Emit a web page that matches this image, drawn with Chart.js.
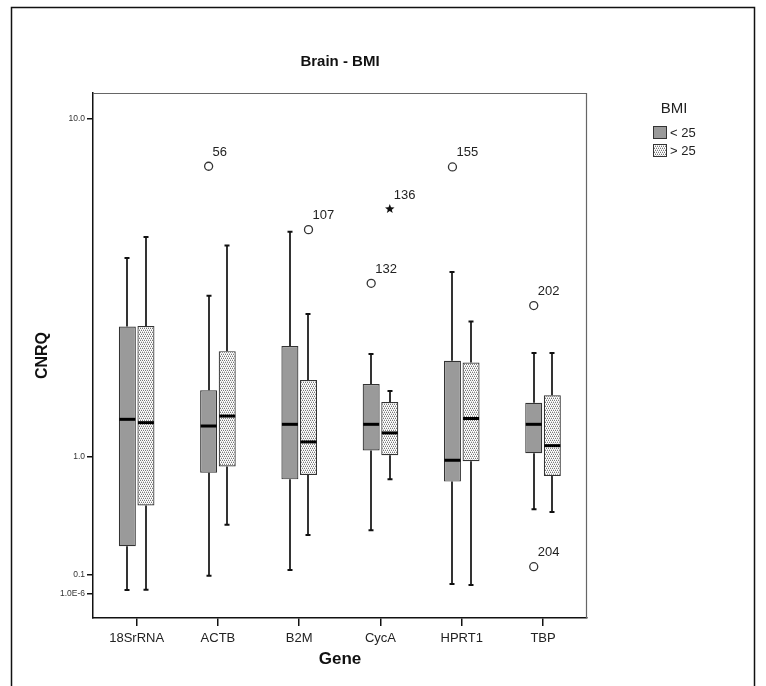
<!DOCTYPE html>
<html><head><meta charset="utf-8">
<script src="https://cdn.jsdelivr.net/npm/chart.js@4.4.0/dist/chart.umd.min.js"></script>
<style>html,body{margin:0;padding:0;background:#fff}#wrap{width:766px;height:686px;position:relative}</style>
</head><body><div id="wrap"><canvas id="c" width="766" height="686"></canvas></div>
<script>
// ---------- data ----------
const genes = ['18SrRNA', 'ACTB', 'B2M', 'CycA', 'HPRT1', 'TBP'];
const groupLabels = ['< 25', '> 25'];

const lt25Min    = [0.018, 0.094, 0.126, 0.376, 0.049, 0.53];
const lt25Q1     = [0.27,  0.84,  0.78,  1.06,  0.76,  1.03];
const lt25Median = [1.41,  1.33,  1.35,  1.35,  0.96,  1.35];
const lt25Q3     = [2.85,  1.79,  2.49,  1.88,  2.24,  1.62];
const lt25Max    = [4.44,  3.50,  5.21,  2.35,  4.07,  2.37];

const gt25Min    = [0.019, 0.415, 0.344, 0.78,  0.044, 0.51];
const gt25Q1     = [0.56,  0.90,  0.82,  1.01,  0.95,  0.81];
const gt25Median = [1.37,  1.45,  1.15,  1.25,  1.42,  1.11];
const gt25Q3     = [2.86,  2.40,  1.94,  1.63,  2.21,  1.72];
const gt25Max    = [5.05,  4.80,  3.10,  1.78,  2.95,  2.37];

const outlierGene  = [1, 2, 3, 3, 4, 5, 5];
const outlierGroup = [0, 1, 0, 1, 0, 0, 0];
const outlierValue = [7.65, 5.28, 3.79, 5.97, 7.62, 3.28, 0.145];
const outlierId    = ['56', '107', '132', '136', '155', '202', '204'];
const outlierKind  = ['o', 'o', 'o', '*', 'o', 'o', 'o'];

const yTickValues = [1e-6, 0.1, 1, 10];
const yTickLabels = ['1.0E-6', '0.1', '1.0', '10.0'];

// ---------- scale: position proportional to log10(1 + value) ----------
const f1p = v => Math.log10(1 + v);
class Log1pScale extends Chart.LinearScale {
  getPixelForValue(value) {
    const a = f1p(this.min), b = f1p(this.max);
    return this.getPixelForDecimal((f1p(value) - a) / (b - a));
  }
  getValueForPixel(pixel) {
    const a = f1p(this.min), b = f1p(this.max);
    return Math.pow(10, a + this.getDecimalForPixel(pixel) * (b - a)) - 1;
  }
}
Log1pScale.id = 'log1p';
Log1pScale.defaults = Chart.LinearScale.defaults;
Chart.register(Log1pScale);

const FONT = '"Liberation Sans", Arial, sans-serif';

// dotted pattern
function makePattern() {
  const c = document.createElement('canvas');
  c.width = 4; c.height = 4;
  const g = c.getContext('2d');
  g.fillStyle = '#ffffff'; g.fillRect(0, 0, 4, 4);
  g.fillStyle = '#7a7a7a';
  [[0,0],[2,0],[1,2],[3,2]].forEach(p => g.fillRect(p[0], p[1], 1, 1));
  g.fillStyle = '#d0d0d0';
  [[1,1],[3,1],[0,3],[2,3]].forEach(p => g.fillRect(p[0], p[1], 1, 1));
  return document.getElementById('c').getContext('2d').createPattern(c, 'repeat');
}
const dotPattern = makePattern();
const groupFills = ['#9a9a9a', dotPattern];

const stats = [
  {min: lt25Min, q1: lt25Q1, med: lt25Median, q3: lt25Q3, max: lt25Max},
  {min: gt25Min, q1: gt25Q1, med: gt25Median, q3: gt25Q3, max: gt25Max}
];

const boxPlugin = {
  id: 'boxParts',
  beforeDraw(chart) {
    const ctx = chart.ctx;
    ctx.save();
    ctx.fillStyle = '#fff';
    ctx.fillRect(0, 0, chart.width, chart.height);
    ctx.strokeStyle = '#111';
    ctx.lineWidth = 1.5;
    ctx.strokeRect(11.5, 7.5, 743, 720);
    ctx.restore();
  },
  afterDatasetsDraw(chart) {
    const ctx = chart.ctx, ys = chart.scales.y;
    ctx.save();
    stats.forEach((s, di) => {
      const meta = chart.getDatasetMeta(di);
      meta.data.forEach((bar, i) => {
        const x = Math.round(bar.x), w = bar.width;
        const pMax = ys.getPixelForValue(s.max[i]);
        const pQ3 = ys.getPixelForValue(s.q3[i]);
        const pQ1 = ys.getPixelForValue(s.q1[i]);
        const pMin = ys.getPixelForValue(s.min[i]);
        const pMed = ys.getPixelForValue(s.med[i]);
        ctx.strokeStyle = '#111';
        ctx.lineWidth = 1.7;
        ctx.beginPath();
        ctx.moveTo(x, pQ3); ctx.lineTo(x, pMax);
        ctx.moveTo(x, pQ1); ctx.lineTo(x, pMin);
        ctx.stroke();
        ctx.lineWidth = 2;
        ctx.beginPath();
        ctx.moveTo(x - 2.5, pMax); ctx.lineTo(x + 2.5, pMax);
        ctx.moveTo(x - 2.5, pMin); ctx.lineTo(x + 2.5, pMin);
        ctx.stroke();
        ctx.strokeStyle = '#000';
        ctx.lineWidth = 3;
        ctx.beginPath();
        ctx.moveTo(bar.x - w / 2 + 0.5, pMed); ctx.lineTo(bar.x + w / 2 - 0.5, pMed);
        ctx.stroke();
      });
    });
    ctx.restore();
  },
  afterDraw(chart) {
    const ctx = chart.ctx, ys = chart.scales.y, a = chart.chartArea;
    ctx.save();
    // plot frame (top/right)
    ctx.strokeStyle = '#666';
    ctx.lineWidth = 1.2;
    ctx.beginPath();
    ctx.moveTo(a.left, a.top + 0.5); ctx.lineTo(a.right - 0.5, a.top + 0.5); ctx.lineTo(a.right - 0.5, a.bottom);
    ctx.stroke();
    // outliers
    outlierValue.forEach((v, k) => {
      const bar = chart.getDatasetMeta(outlierGroup[k]).data[outlierGene[k]];
      const x = bar.x, y = ys.getPixelForValue(v);
      if (outlierKind[k] === '*') {
        ctx.fillStyle = '#111';
        ctx.beginPath();
        for (let j = 0; j < 10; j++) {
          const r = j % 2 === 0 ? 5 : 2.1;
          const ang = -Math.PI / 2 + j * Math.PI / 5;
          const px = x + r * Math.cos(ang), py = y + r * Math.sin(ang);
          if (j === 0) ctx.moveTo(px, py); else ctx.lineTo(px, py);
        }
        ctx.closePath();
        ctx.fill();
      } else {
        ctx.fillStyle = '#fff';
        ctx.strokeStyle = '#333';
        ctx.lineWidth = 1.3;
        ctx.beginPath();
        ctx.arc(x, y, 4, 0, Math.PI * 2);
        ctx.fill();
        ctx.stroke();
      }
      ctx.fillStyle = '#222';
      ctx.font = '13px ' + FONT;
      ctx.textAlign = 'left';
      ctx.textBaseline = 'middle';
      ctx.fillText(outlierId[k], x + 4, y - 14);
    });
    // legend
    ctx.fillStyle = '#222';
    ctx.font = '15px ' + FONT;
    ctx.textAlign = 'center';
    ctx.textBaseline = 'middle';
    ctx.fillText('BMI', 674, 109);
    chart.data.datasets.forEach((ds, i) => {
      const by = 126 + i * 18;
      ctx.fillStyle = ds.backgroundColor;
      ctx.fillRect(653, by, 14, 13);
      ctx.strokeStyle = '#333';
      ctx.lineWidth = 1;
      ctx.strokeRect(653.5, by + 0.5, 13, 12);
      ctx.fillStyle = '#222';
      ctx.font = '13px ' + FONT;
      ctx.textAlign = 'left';
      ctx.fillText(ds.label, 670, by + 7);
    });
    ctx.restore();
  }
};

const datasets = stats.map((s, di) => ({
  label: groupLabels[di],
  data: genes.map((g, i) => ({x: i, y: [s.q1[i], s.q3[i]]})),
  backgroundColor: groupFills[di],
  borderColor: '#333',
  borderWidth: 1.2,
  borderSkipped: false,
  categoryPercentage: 0.4576,
  barPercentage: 0.914
}));

new Chart(document.getElementById('c'), {
  type: 'bar',
  data: {datasets},
  plugins: [boxPlugin],
  options: {
    responsive: false,
    animation: false,
    devicePixelRatio: 1,
    layout: {padding: {left: 20, top: 10, right: 179, bottom: 10}},
    plugins: {
      legend: {display: false},
      tooltip: {enabled: false},
      title: {
        display: true, text: 'Brain - BMI', fullSize: false,
        color: '#111', font: {family: FONT, size: 15, weight: 'bold'},
        padding: {top: 43, bottom: 22}
      }
    },
    scales: {
      x: {
        type: 'linear', min: -0.537, max: 5.541, bounds: 'data', offset: false,
        afterBuildTicks: s => { s.ticks = genes.map((g, i) => ({value: i})); },
        afterFit: s => { s.height = 58; },
        ticks: {
          autoSkip: false, maxRotation: 0, padding: 5, color: '#222',
          font: {family: FONT, size: 13},
          callback: v => genes[v] ?? ''
        },
        grid: {drawOnChartArea: false, offset: false, tickLength: 8, color: '#111', lineWidth: 1.5},
        border: {display: true, color: '#111', width: 1.5},
        title: {display: true, text: 'Gene', color: '#111', font: {family: FONT, size: 17, weight: 'bold'}, padding: {top: 0, bottom: 6}}
      },
      y: {
        type: 'log1p', min: -0.1162, max: 11.52, bounds: 'data',
        afterBuildTicks: s => { s.ticks = yTickValues.map(v => ({value: v})); },
        afterFit: s => { s.width = 73; },
        ticks: {
          padding: 2, color: '#333',
          font: {family: FONT, size: 8.5},
          callback: (v, i) => yTickLabels[i]
        },
        grid: {drawOnChartArea: false, tickLength: 6, color: '#111', lineWidth: 1.5},
        border: {display: true, color: '#111', width: 1.5},
        title: {display: true, text: 'CNRQ', color: '#111', font: {family: FONT, size: 16, weight: 'bold'}, padding: {top: 13, bottom: 0}}
      }
    }
  }
});
</script></body></html>
